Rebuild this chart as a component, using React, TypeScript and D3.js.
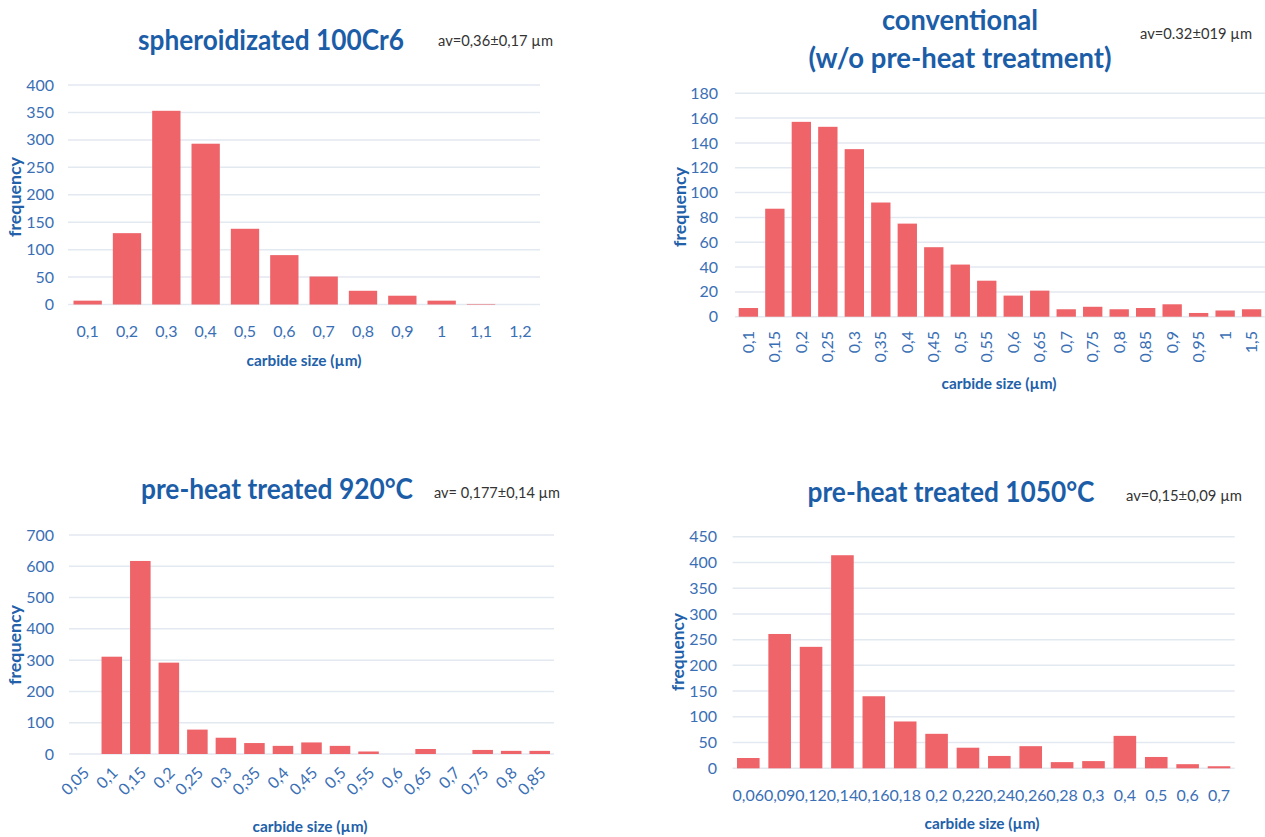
import React from 'react';
import * as d3 from 'd3';

// ---------- data ----------
const spheroCategories = ['0,1', '0,2', '0,3', '0,4', '0,5', '0,6', '0,7', '0,8', '0,9', '1', '1,1', '1,2'];
const spheroValues = [7, 130, 353, 293, 138, 90, 51, 25, 16, 7, 1, 0];
const spheroTicks = [0, 50, 100, 150, 200, 250, 300, 350, 400];

const convCategories = ['0,1', '0,15', '0,2', '0,25', '0,3', '0,35', '0,4', '0,45', '0,5', '0,55', '0,6', '0,65', '0,7', '0,75', '0,8', '0,85', '0,9', '0,95', '1', '1,5'];
const convValues = [7, 87, 157, 153, 135, 92, 75, 56, 42, 29, 17, 21, 6, 8, 6, 7, 10, 3, 5, 6];
const convTicks = [0, 20, 40, 60, 80, 100, 120, 140, 160, 180];

const t920Categories = ['0,05', '0,1', '0,15', '0,2', '0,25', '0,3', '0,35', '0,4', '0,45', '0,5', '0,55', '0,6', '0,65', '0,7', '0,75', '0,8', '0,85'];
const t920Values = [0, 311, 617, 292, 78, 52, 35, 26, 37, 26, 8, 0, 16, 0, 13, 10, 10];
const t920Ticks = [0, 100, 200, 300, 400, 500, 600, 700];

const t1050Categories = ['0,06', '0,09', '0,12', '0,14', '0,16', '0,18', '0,2', '0,22', '0,24', '0,26', '0,28', '0,3', '0,4', '0,5', '0,6', '0,7'];
const t1050Values = [20, 261, 236, 414, 140, 91, 67, 40, 24, 43, 12, 14, 63, 22, 8, 4];
const t1050Ticks = [0, 50, 100, 150, 200, 250, 300, 350, 400, 450];

// ---------- style ----------
const BAR = '#ee6469';
const GRID = '#e3e9f0';
const TICK = '#3a6fb5';
const AXIS_T = '#2261aa';
const TITLE = '#1c5da8';
const AV = '#333333';
const FONT = "Lato, 'Open Sans', sans-serif";

type Layout = {
  x0: number; x1: number; yTop: number; yZero: number; pi: number; po: number;
  tickX: number; labelMode: 'h' | 'v' | 'd'; labelY: number;
  titleX: number; titleYs: number[]; titleWs: number[];
  avX: number; avY: number; avW: number;
  freqX: number; freqY: number; freqW: number;
  carbX: number; carbY: number; carbW: number;
};

type PanelProps = {
  categories: string[]; values: number[]; ticks: number[];
  titleLines: string[]; av: string; L: Layout;
};

function Panel({ categories, values, ticks, titleLines, av, L }: PanelProps) {
  const x = d3.scaleBand<string>().domain(categories).range([L.x0, L.x1]).paddingInner(L.pi).paddingOuter(L.po);
  const y = d3.scaleLinear().domain([0, d3.max(ticks) as number]).range([L.yZero, L.yTop]);
  return (
    <g>
      {ticks.map((t) => (
        <g key={'t' + t}>
          <line x1={L.x0} x2={L.x1} y1={y(t)} y2={y(t)} stroke={GRID} strokeWidth={1.5} />
          <text x={L.tickX} y={y(t)} dy="0.35em" textAnchor="end" fill={TICK} fontSize={16} fontFamily={FONT}>{t}</text>
        </g>
      ))}
      {categories.map((c, i) => (
        <rect key={'b' + c} x={x(c)} y={y(values[i])} width={x.bandwidth()} height={L.yZero - y(values[i])} fill={BAR} />
      ))}
      {categories.map((c) => {
        const cx = (x(c) as number) + x.bandwidth() / 2;
        if (L.labelMode === 'h') {
          return <text key={'l' + c} x={cx} y={L.labelY} textAnchor="middle" fill={TICK} fontSize={16} fontFamily={FONT}>{c}</text>;
        }
        if (L.labelMode === 'v') {
          return <text key={'l' + c} transform={`translate(${cx},${L.labelY}) rotate(-90)`} dy="0.35em" textAnchor="end" fill={TICK} fontSize={16} fontFamily={FONT}>{c}</text>;
        }
        return <text key={'l' + c} transform={`translate(${cx + 3},${L.labelY}) rotate(-45)`} dy="0.35em" textAnchor="end" fill={TICK} fontSize={16} fontFamily={FONT}>{c}</text>;
      })}
      {titleLines.map((t, i) => (
        <text key={'ti' + i} x={L.titleX} y={L.titleYs[i]} textAnchor="middle" fill={TITLE} fontSize={28} fontWeight="bold" fontFamily={FONT}
          textLength={L.titleWs[i]} lengthAdjust="spacingAndGlyphs">{t}</text>
      ))}
      <text x={L.avX} y={L.avY} fill={AV} fontSize={15.5} fontFamily={FONT} textLength={L.avW} lengthAdjust="spacingAndGlyphs">{av}</text>
      <text transform={`translate(${L.freqX},${L.freqY}) rotate(-90)`} dy="0.35em" textAnchor="middle" fill={AXIS_T} fontSize={17} fontWeight="bold" fontFamily={FONT}
        textLength={L.freqW} lengthAdjust="spacingAndGlyphs">frequency</text>
      <text x={L.carbX} y={L.carbY} textAnchor="middle" fill={AXIS_T} fontSize={16} fontWeight="bold" fontFamily={FONT}
        textLength={L.carbW} lengthAdjust="spacingAndGlyphs">carbide size (µm)</text>
    </g>
  );
}

const L1: Layout = {
  x0: 68, x1: 540, yTop: 85, yZero: 304.5, pi: 0.28, po: 0.14, tickX: 54, labelMode: 'h', labelY: 337,
  titleX: 271, titleYs: [50], titleWs: [266], avX: 438, avY: 46, avW: 115,
  freqX: 15, freqY: 197, freqW: 80, carbX: 304, carbY: 366, carbW: 115,
};
const L2: Layout = {
  x0: 735, x1: 1265, yTop: 93.3, yZero: 316.7, pi: 0.27, po: 0.14, tickX: 718, labelMode: 'v', labelY: 331,
  titleX: 960, titleYs: [30, 68], titleWs: [156, 303], avX: 1140, avY: 39, avW: 112,
  freqX: 680, freqY: 207, freqW: 80, carbX: 999, carbY: 389, carbW: 115,
};
const L3: Layout = {
  x0: 69, x1: 554, yTop: 535, yZero: 754, pi: 0.28, po: 0.14, tickX: 54, labelMode: 'd', labelY: 770,
  titleX: 277, titleYs: [499], titleWs: [272], avX: 434, avY: 498, avW: 126,
  freqX: 15, freqY: 645, freqW: 80, carbX: 310, carbY: 832, carbW: 115,
};
const L4: Layout = {
  x0: 732.6, x1: 1234.7, yTop: 536.7, yZero: 768.3, pi: 0.28, po: 0.14, tickX: 717, labelMode: 'h', labelY: 801,
  titleX: 951, titleYs: [502], titleWs: [287], avX: 1126, avY: 501, avW: 116,
  freqX: 678, freqY: 652, freqW: 78, carbX: 982, carbY: 829, carbW: 115,
};

export default function App() {
  return (
    <svg width={1265} height={837} style={{ position: 'absolute', left: 0, top: 0, background: '#fff' }}>
      <rect x={0} y={0} width={1265} height={837} fill="#fff" />
      <Panel categories={spheroCategories} values={spheroValues} ticks={spheroTicks} titleLines={['spheroidizated 100Cr6']} av="av=0,36±0,17 µm" L={L1} />
      <Panel categories={convCategories} values={convValues} ticks={convTicks} titleLines={['conventional', '(w/o pre-heat treatment)']} av="av=0.32±019 µm" L={L2} />
      <Panel categories={t920Categories} values={t920Values} ticks={t920Ticks} titleLines={['pre-heat treated 920°C']} av="av= 0,177±0,14 µm" L={L3} />
      <Panel categories={t1050Categories} values={t1050Values} ticks={t1050Ticks} titleLines={['pre-heat treated 1050°C']} av="av=0,15±0,09 µm" L={L4} />
    </svg>
  );
}
